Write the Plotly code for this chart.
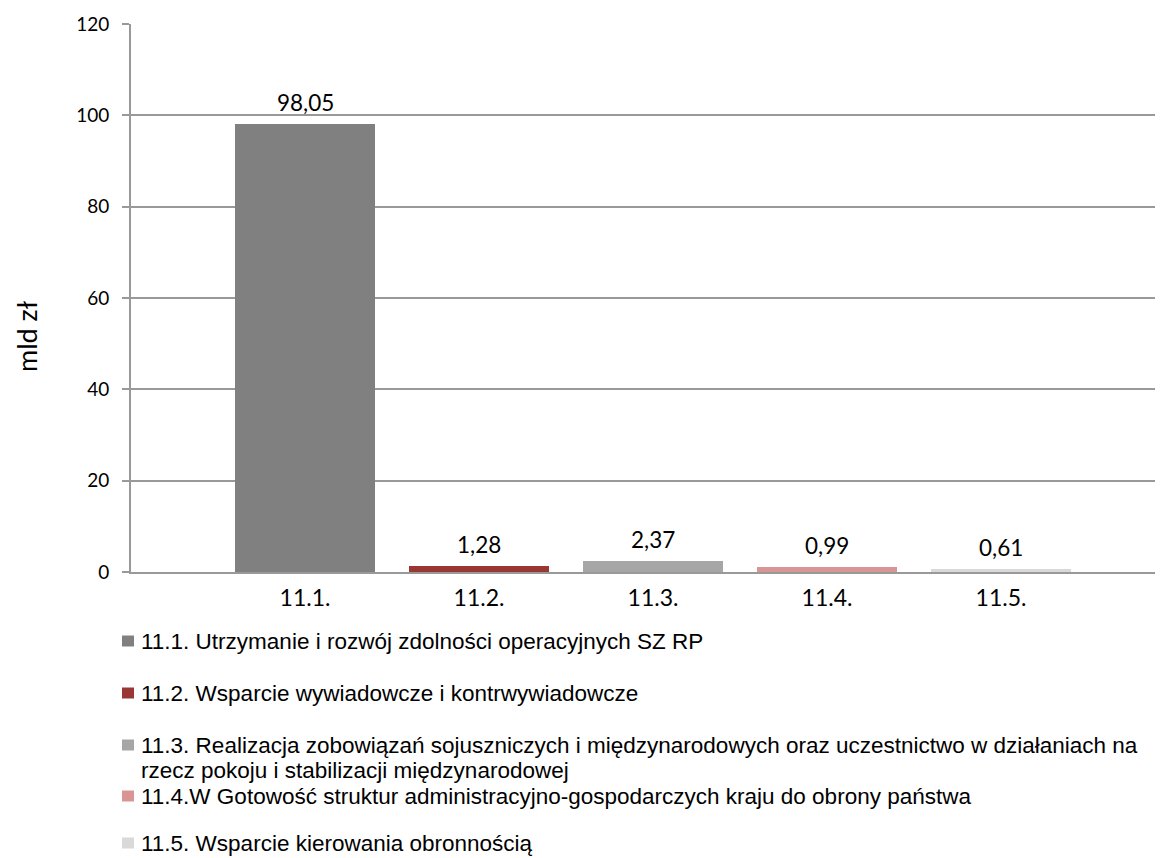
import plotly.graph_objects as go

categories = ["11.1.", "11.2.", "11.3.", "11.4.", "11.5."]
values = [98.05, 1.28, 2.37, 0.99, 0.61]
legend_labels = [
    "11.1. Utrzymanie i rozwój zdolności operacyjnych SZ RP",
    "11.2. Wsparcie wywiadowcze i kontrwywiadowcze",
    "11.3. Realizacja zobowiązań sojuszniczych i międzynarodowych oraz uczestnictwo w działaniach na<br>rzecz pokoju i stabilizacji międzynarodowej",
    "11.4.W Gotowość struktur administracyjno-gospodarczych kraju do obrony państwa",
    "11.5. Wsparcie kierowania obronnością",
]
colors = ["#808080", "#993735", "#a6a6a6", "#d99594", "#d9d9d9"]
y_title = "mld zł"

# The page body has an 8px margin, so the figure is drawn 8px right/down.
OFF = 8
W, H = 1163 - OFF, 858 - OFF
L, T, B = 131 - OFF, 24 - OFF, 572 - OFF  # plot area bounds in figure pixels
PW, PH = W - L, B - T
SLOT = 174.0  # pixel width of one category


def px_x(px):
    return (px - OFF - L) / PW


def px_y(py):
    return (B - (py - OFF)) / PH


fig = go.Figure()
fig.add_trace(go.Bar(
    x=categories, y=values, marker=dict(color=colors, line=dict(width=0)),
    width=0.805, showlegend=False, hoverinfo="x+y",
))

annotations = []
for c, v in zip(categories, values):
    annotations.append(dict(
        x=c, y=v, xref="x", yref="y", text=f"{v:.2f}".replace(".", ","),
        showarrow=False, yanchor="bottom", yshift=6,
        font=dict(family="Lato", size=22.5, color="#000000"),
    ))

# y-axis title
annotations.append(dict(
    x=px_x(26), y=px_y(337), xref="paper", yref="paper", text=y_title,
    showarrow=False, textangle=-90, xanchor="center", yanchor="middle",
    font=dict(family="Lato", size=27, color="#000000"),
))

# manual legend (screen pixel centers of each text line)
legend_line_centers = [[641], [693], [745, 770], [796], [843]]
shapes = []
for lab, col, centers in zip(legend_labels, colors, legend_line_centers):
    sq_cy = centers[0]
    shapes.append(dict(
        type="rect", xref="paper", yref="paper",
        x0=px_x(122), x1=px_x(134), y0=px_y(sq_cy + 5.5), y1=px_y(sq_cy - 5.5),
        fillcolor=col, line=dict(width=0),
    ))
    for line_text, cy in zip(lab.split("<br>"), centers):
        annotations.append(dict(
            x=px_x(139), y=px_y(cy), xref="paper", yref="paper", text=line_text,
            showarrow=False, xanchor="left", yanchor="middle", align="left",
            font=dict(family="Liberation Sans", size=22.5, color="#000000"),
        ))

fig.update_layout(
    width=W, height=H,
    margin=dict(l=L, r=0, t=T, b=H - B, pad=0),
    paper_bgcolor="white", plot_bgcolor="white",
    bargap=0,
    xaxis=dict(
        type="category", range=[-1, -1 + PW / SLOT],
        showline=True, linecolor="#999999", linewidth=2,
        ticks="", showgrid=False, zeroline=False,
        tickfont=dict(family="Lato", size=23, color="#000000"),
        ticklabelstandoff=4,
    ),
    yaxis=dict(
        range=[0, 120], dtick=20, tick0=0,
        showline=True, linecolor="#999999", linewidth=2,
        ticks="outside", ticklen=7, tickcolor="#999999", tickwidth=2,
        showgrid=True, gridcolor="#999999", gridwidth=1.5,
        zeroline=False,
        tickfont=dict(family="Lato", size=19, color="#000000"),
        ticklabelstandoff=9,
    ),
    annotations=annotations,
    shapes=shapes,
)

fig.write_html("out.html")
